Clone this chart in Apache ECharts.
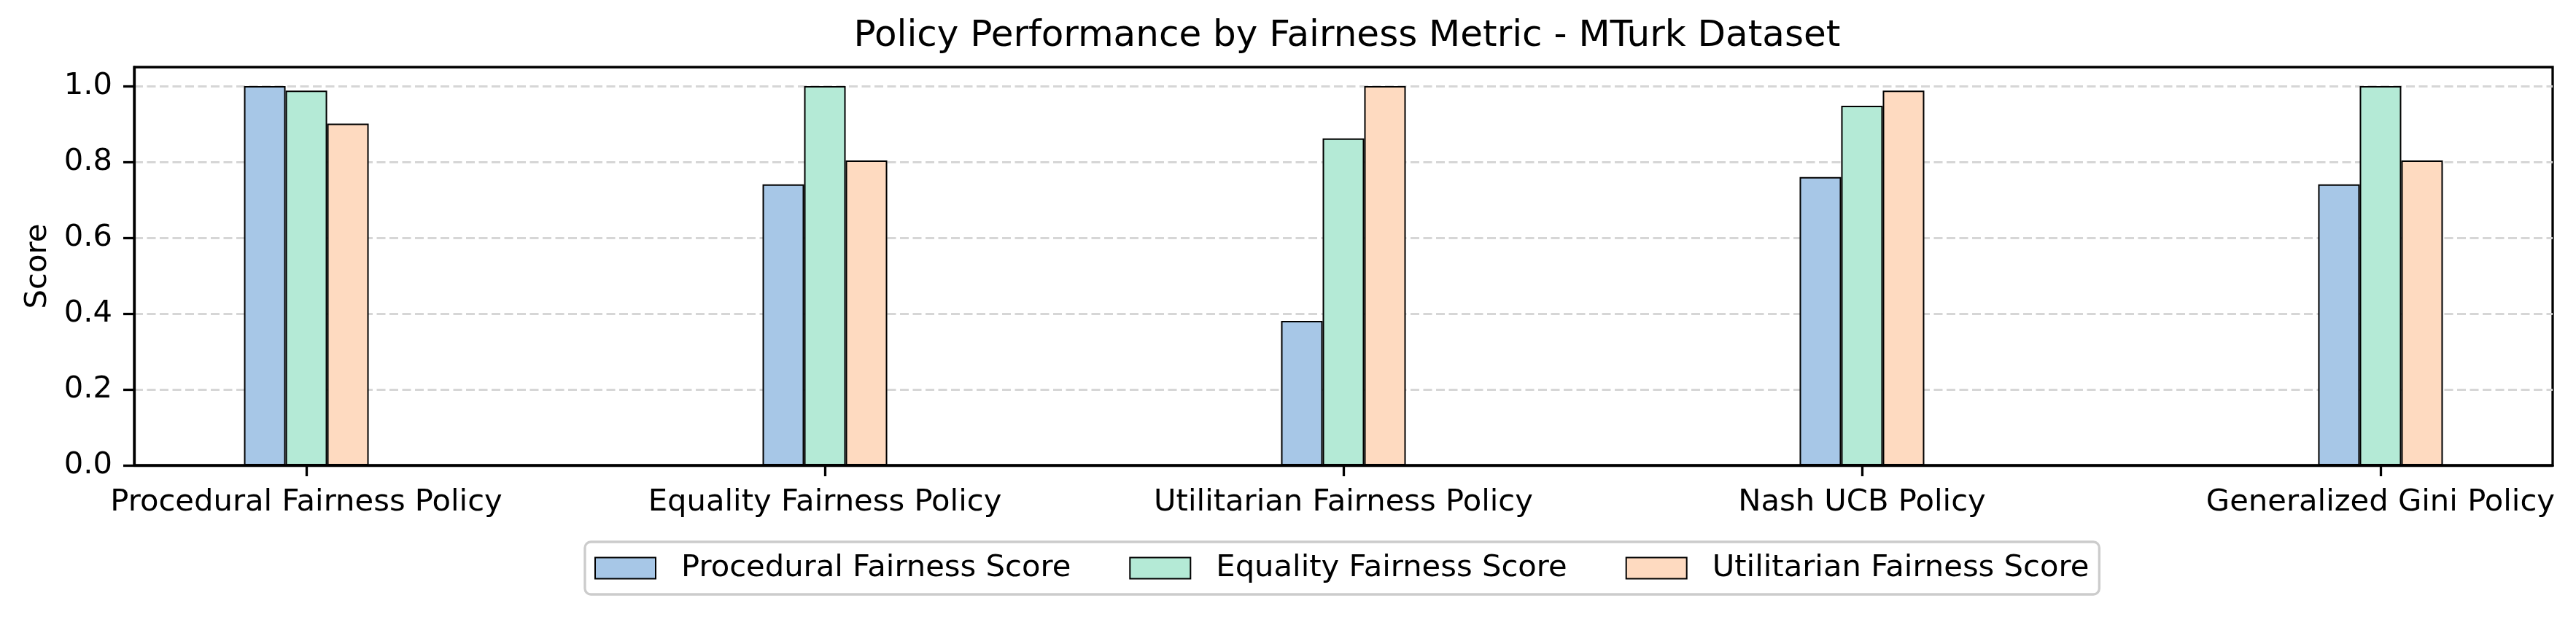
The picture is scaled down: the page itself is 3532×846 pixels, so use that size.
<!DOCTYPE html>
<html>
<head>
<meta charset="utf-8">
<script src="https://cdn.jsdelivr.net/npm/echarts@6/dist/echarts.min.js"></script>
<style>
html,body{margin:0;padding:0;background:#fff;}
#chart{width:3532px;height:846px;}
</style>
</head>
<body>
<div id="chart"></div>
<script>
const categories = ['Procedural Fairness Policy', 'Equality Fairness Policy', 'Utilitarian Fairness Policy', 'Nash UCB Policy', 'Generalized Gini Policy'];
const seriesNames = ['Procedural Fairness Score', 'Equality Fairness Score', 'Utilitarian Fairness Score'];
const proceduralScores = [1.0, 0.741, 0.381, 0.760, 0.741];
const equalityScores = [0.988, 1.0, 0.862, 0.948, 1.0];
const utilitarianScores = [0.901, 0.804, 1.0, 0.988, 0.804];
const yTicks = [0, 0.2, 0.4, 0.6, 0.8, 1.0];
const xTicks = [0, 1, 2, 3, 4];

const colors = ['#a7c7e7', '#b4ead6', '#fedac0'];
const FONT = 'DejaVu Sans';
const allValues = [proceduralScores, equalityScores, utilitarianScores];

const chart = echarts.init(document.getElementById('chart'), null, {renderer: 'canvas'});
const option = {
  backgroundColor: '#ffffff',
  animation: false,
  title: {
    text: 'Policy Performance by Fairness Metric - MTurk Dataset',
    left: 1842,
    textAlign: 'center',
    top: 20,
    textStyle: {fontFamily: FONT, fontSize: 50, fontWeight: 'normal', color: '#000'}
  },
  legend: {
    data: seriesNames,
    left: 802,
    top: 743,
    padding: [15, 14, 15, 13],
    itemWidth: 83,
    itemHeight: 29,
    itemGap: 80,
    borderColor: '#cccccc',
    borderWidth: 3.3,
    borderRadius: 8,
    backgroundColor: '#ffffff',
    icon: 'rect',
    itemStyle: {borderColor: '#000', borderWidth: 2},
    textStyle: {fontFamily: FONT, fontSize: 41.7, color: '#000', padding: [0, 0, 0, 30]}
  },
  grid: {
    left: 184, right: 3532 - 3500, top: 92, bottom: 846 - 638,
    show: true, borderColor: '#000', borderWidth: 3.3, backgroundColor: 'transparent'
  },
  xAxis: {
    type: 'value',
    min: -0.332,
    max: 4.332,
    axisLine: {show: true, onZero: false, lineStyle: {color: '#000', width: 3.3}},
    axisTick: {show: true, customValues: xTicks, length: 15, lineStyle: {color: '#000', width: 3.3}},
    axisLabel: {
      customValues: xTicks,
      margin: 30,
      fontFamily: FONT, fontSize: 41.7, color: '#000',
      formatter: v => categories[Math.round(v)]
    },
    splitLine: {show: false}
  },
  yAxis: {
    type: 'value',
    min: 0,
    max: 1.05,
    interval: 0.2,
    name: 'Score',
    nameLocation: 'middle',
    nameGap: 111,
    nameTextStyle: {fontFamily: FONT, fontSize: 41.7, color: '#000'},
    axisLine: {show: true, onZero: false, lineStyle: {color: '#000', width: 3.3}},
    axisTick: {show: true, customValues: yTicks, length: 15, lineStyle: {color: '#000', width: 3.3}},
    axisLabel: {
      customValues: yTicks,
      margin: 30,
      fontFamily: FONT, fontSize: 41.7, color: '#000',
      formatter: v => v.toFixed(1)
    },
    splitLine: {show: true, lineStyle: {color: '#d6d6d6', width: 3, type: [12, 5.5]}}
  },
  series: seriesNames.map((name, i) => ({
    name: name,
    type: 'bar',
    barWidth: 57,
    barGap: '0%',
    itemStyle: {color: colors[i], borderColor: '#000', borderWidth: 2},
    data: allValues[i].map((v, j) => [j, v])
  }))
};
chart.setOption(option);
</script>
</body>
</html>
